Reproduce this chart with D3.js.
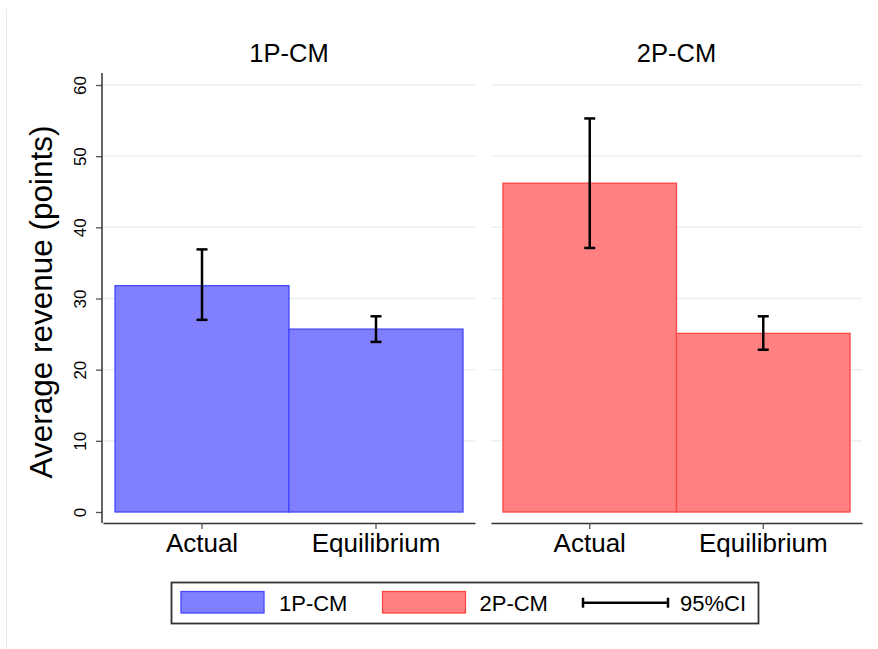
<!DOCTYPE html>
<html>
<head>
<meta charset="utf-8">
<script src="https://cdn.jsdelivr.net/npm/d3@7"></script>
<style>
  body { margin: 0; background: #fff; }
  svg { display: block; font-family: "Liberation Sans", Arial, sans-serif; }
</style>
</head>
<body>
<svg id="chart" width="878" height="649"></svg>
<script>
// data
var panels = ["1P-CM", "2P-CM"];
var categories = ["Actual", "Equilibrium"];
var means = [[31.8, 25.7], [46.2, 25.1]];
var ciLow = [[27.0, 23.9], [37.1, 22.8]];
var ciHigh = [[36.9, 27.5], [55.3, 27.5]];
var yTicks = [0, 10, 20, 30, 40, 50, 60];

var fills = ["#8080ff", "#ff8080"];
var strokes = ["#4646ff", "#ff4646"];

var svg = d3.select("#chart");

// faint outer border on the left
svg.append("line")
    .attr("x1", 6.5).attr("x2", 6.5)
    .attr("y1", 9).attr("y2", 649)
    .attr("stroke", "#e4eeee").attr("stroke-width", 1);

var yScale = d3.scaleLinear()
    .domain([0, 60])
    .range([512, 85]);

var panelRanges = [[103, 475], [491, 862]];
var axisY = 523;

panels.forEach(function (p, pi) {
    var r = panelRanges[pi];
    var xScale = d3.scaleBand()
        .domain(categories)
        .range(r)
        .paddingInner(0)
        .paddingOuter(0.069);

    var g = svg.append("g");

    // gridlines
    g.selectAll("line.grid")
        .data(yTicks.slice(1))
        .enter()
        .append("line")
        .attr("class", "grid")
        .attr("x1", r[0]).attr("x2", r[1])
        .attr("y1", function (d) { return yScale(d); })
        .attr("y2", function (d) { return yScale(d); })
        .attr("stroke", "#eaf1f2")
        .attr("stroke-width", 1.5);

    // bars
    g.selectAll("rect")
        .data(categories)
        .enter()
        .append("rect")
        .attr("x", function (d) { return xScale(d); })
        .attr("width", xScale.bandwidth())
        .attr("y", function (d, i) { return yScale(means[pi][i]); })
        .attr("height", function (d, i) { return yScale(0) - yScale(means[pi][i]); })
        .attr("fill", fills[pi])
        .attr("stroke", strokes[pi])
        .attr("stroke-width", 1.3);

    // error bars
    var eb = g.selectAll("g.err")
        .data(categories)
        .enter()
        .append("g")
        .attr("class", "err")
        .attr("transform", function (d) { return "translate(" + (xScale(d) + xScale.bandwidth() / 2) + ",0)"; });
    eb.append("line")
        .attr("x1", 0).attr("x2", 0)
        .attr("y1", function (d, i) { return yScale(ciLow[pi][i]); })
        .attr("y2", function (d, i) { return yScale(ciHigh[pi][i]); })
        .attr("stroke", "#000").attr("stroke-width", 2.5);
    [ciLow, ciHigh].forEach(function (arr) {
        eb.append("line")
            .attr("x1", -5.5).attr("x2", 5.5)
            .attr("y1", function (d, i) { return yScale(arr[pi][i]); })
            .attr("y2", function (d, i) { return yScale(arr[pi][i]); })
            .attr("stroke", "#000").attr("stroke-width", 2.5);
    });

    // x axis
    var xAxis = g.append("g")
        .attr("transform", "translate(0," + axisY + ")")
        .call(d3.axisBottom(xScale).tickSize(6).tickPadding(5).tickSizeOuter(0));
    xAxis.select(".domain").attr("stroke", "#333").attr("stroke-width", 1.5);
    xAxis.selectAll(".tick line").attr("stroke", "#555").attr("stroke-width", 1.3);
    xAxis.selectAll(".tick text")
        .attr("font-size", "26px")
        .attr("fill", "#000")
        .attr("font-family", "Liberation Sans, Arial, sans-serif");

    // panel title
    svg.append("text")
        .attr("x", (r[0] + r[1]) / 2)
        .attr("y", 62)
        .attr("text-anchor", "middle")
        .attr("font-size", "25.5px")
        .attr("fill", "#000")
        .text(p);
});

// y axis on the first panel
var yAxisG = svg.append("g")
    .attr("transform", "translate(102,0)")
    .call(d3.axisLeft(yScale).tickValues(yTicks).tickSize(6).tickSizeOuter(0).tickFormat(d3.format("d")));
yAxisG.select(".domain").remove();
yAxisG.append("line")
    .attr("x1", 0).attr("x2", 0)
    .attr("y1", 73).attr("y2", axisY)
    .attr("stroke", "#333").attr("stroke-width", 1.5);
yAxisG.selectAll(".tick line").attr("stroke", "#555").attr("stroke-width", 1.3);
yAxisG.selectAll(".tick text")
    .attr("font-size", "17px")
    .attr("fill", "#000")
    .attr("font-family", "Liberation Sans, Arial, sans-serif")
    .attr("text-anchor", "middle")
    .attr("x", null).attr("dy", null)
    .attr("transform", "translate(-16,0) rotate(-90)")
    .attr("y", 0);

svg.append("text")
    .attr("transform", "translate(52,302) rotate(-90)")
    .attr("text-anchor", "middle")
    .attr("font-size", "31.5px")
    .attr("fill", "#000")
    .text("Average revenue (points)");

// legend
var legend = svg.append("g");
legend.append("rect")
    .attr("x", 171.5).attr("y", 582.5)
    .attr("width", 587).attr("height", 41)
    .attr("fill", "#fff").attr("stroke", "#333").attr("stroke-width", 1.8);

var legendItems = [
    { label: panels[0], x: 181, tx: 279 },
    { label: panels[1], x: 382.5, tx: 479.5 }
];
legendItems.forEach(function (d, i) {
    legend.append("rect")
        .attr("x", d.x).attr("y", 591.5)
        .attr("width", 83).attr("height", 21.5)
        .attr("fill", fills[i]).attr("stroke", strokes[i]).attr("stroke-width", 1.3);
    legend.append("text")
        .attr("x", d.tx).attr("y", 611)
        .attr("font-size", "22px")
        .attr("fill", "#000")
        .text(d.label);
});
legend.append("line")
    .attr("x1", 583).attr("x2", 668).attr("y1", 602.7).attr("y2", 602.7)
    .attr("stroke", "#000").attr("stroke-width", 2.5);
[583, 668].forEach(function (x) {
    legend.append("line")
        .attr("x1", x).attr("x2", x).attr("y1", 597.7).attr("y2", 607.7)
        .attr("stroke", "#000").attr("stroke-width", 2.5);
});
legend.append("text")
    .attr("x", 680).attr("y", 611)
    .attr("font-size", "22px")
    .attr("fill", "#000")
    .text("95%CI");
</script>
</body>
</html>
